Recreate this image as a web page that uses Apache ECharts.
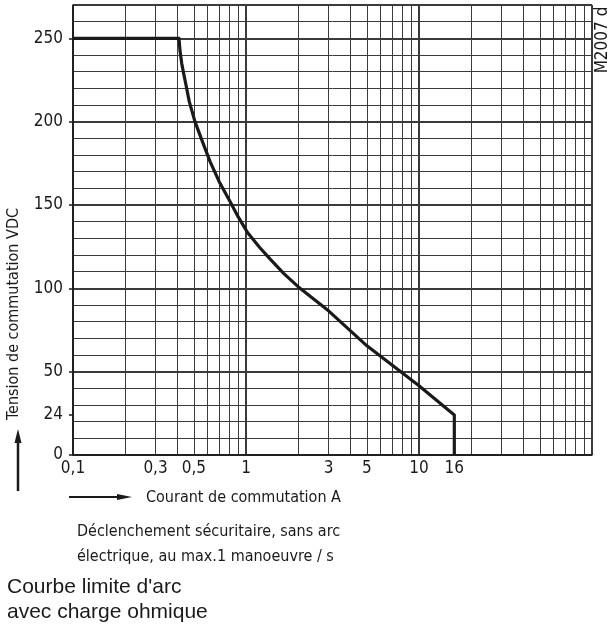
<!DOCTYPE html>
<html>
<head>
<meta charset="utf-8">
<script src="https://cdn.jsdelivr.net/npm/echarts@6/dist/echarts.min.js"></script>
<style>
  html, body { margin: 0; padding: 0; background: #fff; }
  #chart { width: 615px; height: 630px; }
</style>
</head>
<body>
<div id="chart"></div>
<script>
// courbe limite d'arc (courant A, tension VDC)
const courant = [0.1, 0.41, 0.415, 0.425, 0.434, 0.45, 0.47, 0.507, 0.56, 0.62, 0.7, 0.81, 0.9,
  1.02, 1.2, 1.38, 1.65, 2, 3, 5, 10, 16, 16];
const tension = [250, 250, 243, 235, 230, 222, 212, 200, 188, 176, 164, 152, 143,
  133.5, 124.5, 117.5, 109, 101, 86.5, 65.5, 41.5, 24, 0];

const xLabels = [0.1, 0.3, 0.5, 1, 3, 5, 10, 16];
const xGrid = [0.2, 0.3, 0.4, 0.5, 0.6, 0.7, 0.8, 0.9,
  2, 3, 4, 5, 6, 7, 8, 9,
  20, 30, 40, 50, 60, 70, 80, 90];
const yLabels = [0, 24, 50, 100, 150, 200, 250];

const FONT = "'Liberation Sans Narrow', 'DejaVu Sans Condensed', sans-serif";
const INK = '#1a1a1a';
const GRID = '#3a3a3a';

const chart = echarts.init(document.getElementById('chart'));

const option = {
  animation: false,
  grid: { left: 73, right: 23, top: 5, bottom: 175 },
  xAxis: [
    {
      type: 'log', logBase: 10, min: 0.1, max: 100,
      axisLine: { show: true, lineStyle: { color: INK, width: 1.5 } },
      axisTick: { show: false },
      axisLabel: {
        customValues: xLabels,
        color: INK, fontFamily: FONT, fontSize: 17, margin: 5,
        formatter: v => String(v).replace('.', ',')
      },
      splitLine: { show: true, lineStyle: { color: GRID, width: 2 } }
    },
    {
      type: 'log', logBase: 10, min: 0.1, max: 100, position: 'bottom',
      axisLine: { show: false },
      axisTick: { show: false, customValues: xGrid },
      axisLabel: { show: false },
      splitLine: { show: true, lineStyle: { color: GRID, width: 1 } }
    }
  ],
  yAxis: [
    {
      type: 'value', min: 0, max: 270, interval: 10,
      axisLine: { show: true, lineStyle: { color: INK, width: 1.5 } },
      axisTick: { show: false },
      axisLabel: { show: false },
      splitLine: { show: true, lineStyle: { color: GRID, width: 1 } }
    },
    {
      type: 'value', min: 0, max: 270, interval: 50,
      axisLine: { show: false },
      axisTick: { show: false },
      axisLabel: { show: false },
      splitLine: { show: true, lineStyle: { color: GRID, width: 2 } }
    },
    {
      type: 'value', min: 0, max: 270, position: 'left',
      axisLine: { show: false },
      axisTick: { show: true, customValues: yLabels, length: 4, lineStyle: { color: INK, width: 1.5 } },
      axisLabel: { customValues: yLabels, color: INK, fontFamily: FONT, fontSize: 17, margin: 10 },
      splitLine: { show: false }
    }
  ],
  series: [
    {
      type: 'line',
      xAxisIndex: 0,
      yAxisIndex: 0,
      data: courant.map((c, i) => [c, tension[i]]),
      symbol: 'none',
      lineStyle: { color: INK, width: 3.2, join: 'round' },
      silent: true
    }
  ],
  graphic: [
    {
      type: 'text', x: 14, y: 314, rotation: Math.PI / 2, originX: 0, originY: 0,
      style: { text: 'Tension de commutation VDC', font: '16px ' + FONT, fill: INK,
        align: 'center', verticalAlign: 'middle' }
    },
    { type: 'line', shape: { x1: 18, y1: 491, x2: 18, y2: 440 }, style: { stroke: INK, lineWidth: 2.5 } },
    { type: 'polygon', shape: { points: [[18, 429], [14.5, 443], [21.5, 443]] }, style: { fill: INK } },
    { type: 'line', shape: { x1: 69, y1: 497, x2: 120, y2: 497 }, style: { stroke: INK, lineWidth: 2 } },
    { type: 'polygon', shape: { points: [[132, 497], [117, 494], [117, 500]] }, style: { fill: INK } },
    {
      type: 'text', x: 146, y: 498,
      style: { text: 'Courant de commutation A', font: '16px ' + FONT, fill: INK, verticalAlign: 'middle' }
    },
    {
      type: 'text', x: 77, y: 532,
      style: { text: 'Déclenchement sécuritaire, sans arc', font: '16px ' + FONT, fill: INK, verticalAlign: 'middle' }
    },
    {
      type: 'text', x: 77, y: 557,
      style: { text: 'électrique, au max.1 manoeuvre / s', font: '16px ' + FONT, fill: INK, verticalAlign: 'middle' }
    },
    {
      type: 'text', x: 7, y: 587,
      style: { text: "Courbe limite d'arc", font: "21px 'Liberation Sans', Arial, sans-serif", fill: INK, verticalAlign: 'middle' }
    },
    {
      type: 'text', x: 7, y: 612,
      style: { text: 'avec charge ohmique', font: "21px 'Liberation Sans', Arial, sans-serif", fill: INK, verticalAlign: 'middle' }
    },
    {
      type: 'text', x: 603, y: 40, rotation: Math.PI / 2, originX: 0, originY: 0,
      style: { text: 'M2007 d', font: '17px ' + FONT, fill: INK, align: 'center', verticalAlign: 'middle' }
    }
  ]
};

chart.setOption(option);
</script>
</body>
</html>
